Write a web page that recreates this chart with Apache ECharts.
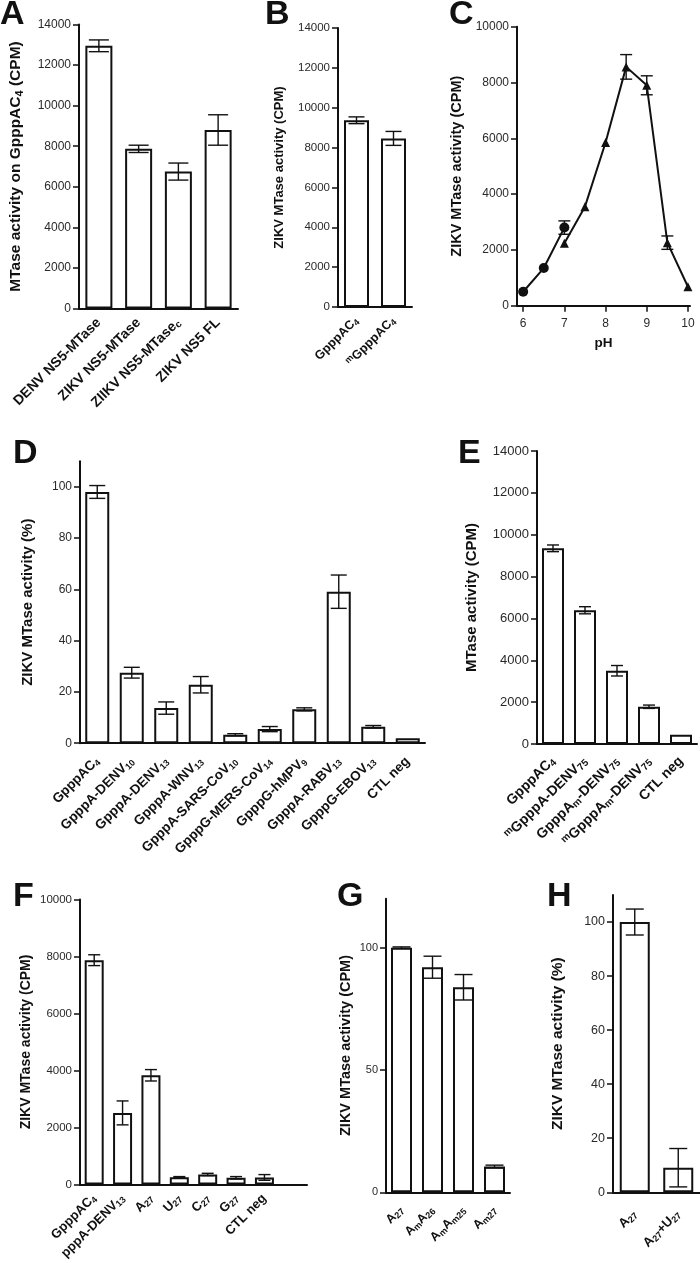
<!DOCTYPE html>
<html><head><meta charset="utf-8">
<script src="https://cdn.jsdelivr.net/npm/echarts@6/dist/echarts.min.js"></script>
<style>html,body{margin:0;padding:0;background:#fff}#c{width:700px;height:1263px}</style>
</head><body><div id="c"></div>
<script>
// ---------- DATA ----------
// Panel A
const aCategories = ['DENV NS5-MTase', 'ZIKV NS5-MTase', 'ZIIKV NS5-MTase_{c}', 'ZIKV NS5 FL'];
const aValues = [12950, 7870, 6750, 8800];
const aErrors = [290, 180, 420, 750];
const aYTicks = [0, 2000, 4000, 6000, 8000, 10000, 12000, 14000];
// Panel B
const bCategories = ['GpppAC_{4}', '^{m}GpppAC_{4}'];
const bValues = [9370, 8460];
const bErrors = [170, 350];
const bYTicks = [0, 2000, 4000, 6000, 8000, 10000, 12000, 14000];
// Panel C
const cCirclePH = [6, 6.5, 7];
const cCircleValues = [500, 1350, 2800];
const cCircleErrors = [0, 0, 240];
const cTrianglePH = [7, 7.5, 8, 8.5, 9, 9.5, 10];
const cTriangleValues = [2240, 3550, 5850, 8560, 7900, 2260, 680];
const cTriangleErrors = [0, 0, 0, 440, 340, 240, 0];
const cXTicks = [6, 7, 8, 9, 10];
const cYTicks = [0, 2000, 4000, 6000, 8000, 10000];
// Panel D
const dCategories = ['GpppAC_{4}', 'GpppA-DENV_{10}', 'GpppA-DENV_{13}', 'GpppA-WNV_{13}', 'GpppA-SARS-CoV_{10}',
  'GpppG-MERS-CoV_{14}', 'GpppG-hMPV_{9}', 'GpppA-RABV_{13}', 'GpppG-EBOV_{13}', 'CTL neg'];
const dValues = [98, 27.5, 13.7, 22.8, 3.3, 5.5, 13.2, 59.1, 6.4, 1.9];
const dErrors = [2.5, 2.1, 2.4, 3.2, 0.4, 1.0, 0.6, 6.5, 0.5, 0];
const dYTicks = [0, 20, 40, 60, 80, 100];
// Panel E
const eCategories = ['GpppAC_{4}', '^{m}GpppA-DENV_{75}', 'GpppA_{m}-DENV_{75}', '^{m}GpppA_{m}-DENV_{75}', 'CTL neg'];
const eValues = [9350, 6390, 3500, 1780, 440];
const eErrors = [160, 170, 250, 80, 0];
const eYTicks = [0, 2000, 4000, 6000, 8000, 10000, 12000, 14000];
// Panel F
const fCategories = ['GpppAC_{4}', 'pppA-DENV_{13}', 'A_{27}', 'U_{27}', 'C_{27}', 'G_{27}', 'CTL neg', ''];
const fValues = [7870, 2510, 3830, 255, 350, 235, 245];
const fErrors = [190, 420, 200, 20, 40, 40, 100];
const fYTicks = [0, 2000, 4000, 6000, 8000, 10000];
// Panel G
const gCategories = ['A_{27}', 'A_{m}A_{26}', 'A_{m}A_{m25}', 'A_{m27}'];
const gValues = [100, 92, 83.8, 10.5];
const gErrors = [0.3, 4.5, 5.2, 0.6];
const gYTicks = [0, 50, 100];
// Panel H
const hCategories = ['A_{27}', 'A_{27}+U_{27}'];
const hValues = [100, 9.1];
const hErrors = [4.8, 7.1];
const hYTicks = [0, 20, 40, 60, 80, 100];

// ---------- STYLE / BUILD ----------
const INK = '#111';
const FONT = '"Liberation Sans", Arial, Helvetica, sans-serif';
function fmt(s) {
  return s.replace(/_\{([^}]*)\}/g, '{sub|$1}').replace(/\^\{([^}]*)\}/g, '{sup|$1}');
}
function richFor(size, off) {
  return {
    sub: {fontSize: size, fontWeight: 'bold', fontFamily: FONT, color: INK, lineHeight: off, verticalAlign: 'bottom'},
    sup: {fontSize: size, fontWeight: 'bold', fontFamily: FONT, color: INK, lineHeight: off, verticalAlign: 'top'}
  };
}
const grids = [], xAxes = [], yAxes = [], series = [];

function yAxisDef(i, max, ticks, name, gap, nameSize, tickSize) {
  return {
    type: 'value', gridIndex: i, min: 0, max: max,
    name: fmt(name), nameLocation: 'middle', nameGap: gap,
    nameTextStyle: {fontSize: nameSize, fontWeight: 'bold', color: INK, fontFamily: FONT,
      lineHeight: nameSize + 3, rich: richFor(Math.round(nameSize * 0.68), Math.round(nameSize * 0.6))},
    axisLine: {show: true, lineStyle: {color: INK, width: 2}},
    axisTick: {show: true, length: 6, lineStyle: {color: INK, width: 1.5}, customValues: ticks},
    axisLabel: {fontSize: tickSize, color: '#2a2a2a', margin: 8, fontFamily: FONT, customValues: ticks,
      formatter: v => String(v)},
    splitLine: {show: false}
  };
}
function errSeries(i, data, capHalf) {
  return {
    type: 'custom', xAxisIndex: i, yAxisIndex: i, silent: true, z: 10,
    encode: {x: 0, y: [1, 2]},
    data: data,
    renderItem: function (params, api) {
      const x = api.value(0), lo = api.value(1), hi = api.value(2);
      if (hi - lo <= 0) return null;
      const pl = api.coord([x, lo]), ph = api.coord([x, hi]);
      const st = {stroke: INK, lineWidth: 1.4};
      return {type: 'group', children: [
        {type: 'line', shape: {x1: ph[0], y1: ph[1], x2: pl[0], y2: pl[1]}, style: st},
        {type: 'line', shape: {x1: ph[0] - capHalf, y1: ph[1], x2: ph[0] + capHalf, y2: ph[1]}, style: st},
        {type: 'line', shape: {x1: pl[0] - capHalf, y1: pl[1], x2: pl[0] + capHalf, y2: pl[1]}, style: st}
      ]};
    }
  };
}
function catPanel(p) {
  const i = grids.length;
  grids.push({left: p.left, top: p.top, width: p.width, height: p.height, containLabel: false});
  xAxes.push({
    type: 'category', gridIndex: i, data: p.cats.map(fmt),
    axisLine: {lineStyle: {color: INK, width: 2}},
    axisTick: {alignWithLabel: true, length: 6, interval: 0, lineStyle: {color: INK, width: 1.5}},
    axisLabel: {interval: 0, rotate: 45, fontSize: p.lblSize, fontWeight: 'bold', color: INK, fontFamily: FONT,
      margin: p.lblMargin, lineHeight: p.lblSize + 2,
      rich: richFor(Math.round(p.lblSize * 0.68), Math.round(p.lblSize * 0.6))}
  });
  yAxes.push(yAxisDef(i, p.ymax, p.yTicks, p.yName, p.nameGap, p.nameSize, p.tickSize));
  series.push({type: 'bar', xAxisIndex: i, yAxisIndex: i, data: p.vals, barWidth: p.barW, silent: true,
    itemStyle: {color: '#fff', borderColor: INK, borderWidth: 2}});
  series.push(errSeries(i, p.vals.map((v, k) => [k, v - p.errs[k], v + p.errs[k]]), p.cap));
}

catPanel({left: 79, top: 24.5, width: 159, height: 284, cats: aCategories, vals: aValues, errs: aErrors,
  ymax: 14000, yTicks: aYTicks, yName: 'MTase activity on GpppAC_{4} (CPM)', nameGap: 54, nameSize: 15.5, tickSize: 12,
  barW: 27, cap: 10, lblMargin: 12, lblSize: 14});
catPanel({left: 338, top: 28, width: 74, height: 279, cats: bCategories, vals: bValues, errs: bErrors,
  ymax: 14000, yTicks: bYTicks, yName: 'ZIKV MTase activity (CPM)', nameGap: 51, nameSize: 13, tickSize: 11.5,
  barW: 25, cap: 8, lblMargin: 12, lblSize: 12.5});

// Panel C (line, numeric x)
(function () {
  const i = grids.length;
  grids.push({left: 517, top: 26.7, width: 173, height: 279, containLabel: false});
  xAxes.push({
    type: 'value', gridIndex: i, min: 5.85, max: 10.05,
    name: 'pH', nameLocation: 'middle', nameGap: 31,
    nameTextStyle: {fontSize: 13.5, fontWeight: 'bold', color: INK, fontFamily: FONT},
    axisLine: {lineStyle: {color: INK, width: 2}},
    axisTick: {show: true, length: 6, lineStyle: {color: INK, width: 1.5}, customValues: cXTicks},
    axisLabel: {fontSize: 12, color: '#2a2a2a', margin: 12, fontFamily: FONT, customValues: cXTicks},
    splitLine: {show: false}
  });
  yAxes.push(yAxisDef(i, 10000, cYTicks, 'ZIKV MTase activity (CPM)', 51.5, 14.5, 12));
  const lineStyle = {color: INK, width: 2};
  series.push({type: 'line', xAxisIndex: i, yAxisIndex: i, silent: true,
    data: cCirclePH.map((x, k) => [x, cCircleValues[k]]), symbol: 'circle', symbolSize: 10,
    lineStyle: lineStyle, itemStyle: {color: INK}});
  series.push({type: 'line', xAxisIndex: i, yAxisIndex: i, silent: true,
    data: cTrianglePH.map((x, k) => [x, cTriangleValues[k]]), symbol: 'triangle', symbolSize: 9,
    lineStyle: lineStyle, itemStyle: {color: INK}});
  series.push(errSeries(i, cCirclePH.map((x, k) => [x, cCircleValues[k] - cCircleErrors[k], cCircleValues[k] + cCircleErrors[k]]), 6));
  series.push(errSeries(i, cTrianglePH.map((x, k) => [x, cTriangleValues[k] - cTriangleErrors[k], cTriangleValues[k] + cTriangleErrors[k]]), 6));
})();

catPanel({left: 80, top: 461.2, width: 345, height: 282, cats: dCategories, vals: dValues, errs: dErrors,
  ymax: 110, yTicks: dYTicks, yName: 'ZIKV MTase activity (%)', nameGap: 43.5, nameSize: 15, tickSize: 12,
  barW: 24, cap: 8, lblMargin: 16, lblSize: 13.5});
catPanel({left: 537, top: 451, width: 160, height: 293, cats: eCategories, vals: eValues, errs: eErrors,
  ymax: 14000, yTicks: eYTicks, yName: 'MTase activity (CPM)', nameGap: 56.5, nameSize: 15, tickSize: 13,
  barW: 22, cap: 6, lblMargin: 15, lblSize: 14});
catPanel({left: 80, top: 899.5, width: 227, height: 286.5, cats: fCategories, vals: fValues, errs: fErrors,
  ymax: 10000, yTicks: fYTicks, yName: 'ZIKV MTase activity (CPM)', nameGap: 45, nameSize: 14, tickSize: 11.5,
  barW: 19, cap: 6, lblMargin: 12, lblSize: 13});
catPanel({left: 386, top: 898.7, width: 124, height: 293.6, cats: gCategories, vals: gValues, errs: gErrors,
  ymax: 120, yTicks: gYTicks, yName: 'ZIKV MTase activity (CPM)', nameGap: 31, nameSize: 14.5, tickSize: 11,
  barW: 21, cap: 9, lblMargin: 16, lblSize: 12.5});
catPanel({left: 613, top: 895, width: 90, height: 297.3, cats: hCategories, vals: hValues, errs: hErrors,
  ymax: 110, yTicks: hYTicks, yName: 'ZIKV MTase activity (%)', nameGap: 46, nameSize: 15.5, tickSize: 12.5,
  barW: 30, cap: 9, lblMargin: 20, lblSize: 13});

const letters = [['A', 0, 15], ['B', 265, 15], ['C', 449, 15], ['D', 13, 454], ['E', 458, 454],
  ['F', 13, 897], ['G', 337, 897], ['H', 547, 897]];
const graphic = letters.map(l => ({type: 'text', x: l[1], y: l[2], silent: true,
  style: {text: l[0], fontSize: 34, fontWeight: 'bold', fontFamily: FONT, fill: INK, align: 'left', verticalAlign: 'middle'}}));

const chart = echarts.init(document.getElementById('c'), null, {renderer: 'canvas'});
chart.setOption({
  animation: false,
  backgroundColor: '#fff',
  textStyle: {fontFamily: FONT},
  grid: grids, xAxis: xAxes, yAxis: yAxes, series: series, graphic: graphic
});
</script></body></html>
